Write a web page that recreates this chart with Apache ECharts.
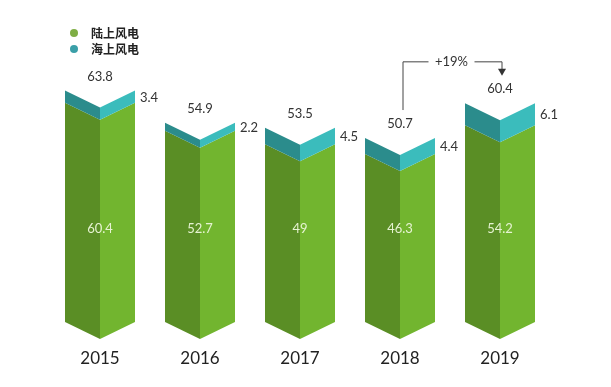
<!DOCTYPE html>
<html><head><meta charset="utf-8">
<script src="https://cdn.jsdelivr.net/npm/echarts@6/dist/echarts.min.js"></script>
<style>html,body{margin:0;padding:0;background:#fff}#c{width:611px;height:387px}</style>
</head><body><div id="c"></div>
<script>
const years = ['2015', '2016', '2017', '2018', '2019'];
const onshore = [60.4, 52.7, 49, 46.3, 54.2];
const offshore = [3.4, 2.2, 4.5, 4.4, 6.1];
const totals = [63.8, 54.9, 53.5, 50.7, 60.4];
const seriesNames = ['陆上风电', '海上风电'];
const growthLabel = '+19%';

const NUM_FONT = 'Lato, "DejaVu Sans", sans-serif';
const DEPTH = 17;

function faces(api, idx, lo, hi, cL, cR) {
  const half = api.size([1, 0])[0] * 0.35;
  const pTop = api.coord([idx, hi]);
  const pBot = api.coord([idx, lo]);
  const xc = pTop[0], xl = xc - half, xr = xc + half;
  const yt = pTop[1], yb = pBot[1];
  return {
    xc, xl, xr, yt, yb,
    shapes: [
      {type: 'polygon', shape: {points: [[xl, yt], [xc, yt + DEPTH], [xc, yb + DEPTH], [xl, yb]]}, style: {fill: cL}},
      {type: 'polygon', shape: {points: [[xc, yt + DEPTH], [xr, yt], [xr, yb], [xc, yb + DEPTH]]}, style: {fill: cR}}
    ]
  };
}

const chart = echarts.init(document.getElementById('c'), null, {renderer: 'canvas'});
chart.setOption({
  backgroundColor: '#ffffff',
  animation: false,
  grid: {left: 50, right: 61, top: 68, bottom: 65},
  legend: {
    orient: 'vertical', left: 65, top: 21, itemGap: 2,
    icon: 'circle', itemWidth: 8, itemHeight: 8,
    textStyle: {fontSize: 12, lineHeight: 14, color: '#222', fontWeight: 'bold',
      fontFamily: '"Noto Sans CJK SC", sans-serif', padding: [0, 0, 0, 8]},
    data: [
      {name: seriesNames[0], itemStyle: {color: '#7fae45'}},
      {name: seriesNames[1], itemStyle: {color: '#3a9fa8'}}
    ]
  },
  xAxis: {
    type: 'category', data: years,
    axisLine: {show: false}, axisTick: {show: false}, splitLine: {show: false},
    axisLabel: {margin: 28, fontSize: 17, color: '#222', fontFamily: NUM_FONT}
  },
  yAxis: {type: 'value', min: 0, max: 70, show: false},
  series: [
    {
      name: seriesNames[0], type: 'custom',
      itemStyle: {color: '#7fae45'},
      encode: {x: 0, y: 1},
      data: years.map((y, i) => [i, onshore[i]]),
      renderItem: function (params, api) {
        const i = api.value(0);
        const f = faces(api, i, 0, api.value(1), '#5a8e25', '#72b52f');
        return {type: 'group', children: f.shapes.concat([
          {type: 'text', style: {x: f.xc, y: f.yb - 93, text: String(onshore[i]),
            fill: '#e6f3d2', fontSize: 13, fontFamily: NUM_FONT, align: 'center', verticalAlign: 'middle'}}
        ])};
      }
    },
    {
      name: seriesNames[1], type: 'custom',
      itemStyle: {color: '#3a9fa8'},
      encode: {x: 0, y: 1},
      data: years.map((y, i) => [i, onshore[i] + offshore[i], onshore[i]]),
      renderItem: function (params, api) {
        const i = api.value(0);
        const f = faces(api, i, api.value(2), api.value(1), '#2b8c8c', '#3bbcbc');
        return {type: 'group', children: f.shapes.concat([
          {type: 'text', style: {x: f.xc, y: f.yt - 14, text: String(totals[i]),
            fill: '#333', fontSize: 13, fontFamily: NUM_FONT, align: 'center', verticalAlign: 'middle'}},
          {type: 'text', style: {x: f.xr + 5, y: (f.yt + f.yb) / 2 + 1, text: String(offshore[i]),
            fill: '#333', fontSize: 13, fontFamily: NUM_FONT, align: 'left', verticalAlign: 'middle'}}
        ])};
      }
    }
  ]
});

// growth annotation between 2018 and 2019
const pA = chart.convertToPixel({seriesIndex: 1}, [3, totals[3]]);
const pB = chart.convertToPixel({seriesIndex: 1}, [4, totals[4]]);
const xA = pA[0] + 3, xB = pB[0] + 2;
const yA = pA[1] - 28, yB = pB[1] - 28;
const yTop = Math.min(yA, yB) - 13;
const xMid = (xA + xB) / 2;
chart.setOption({
  graphic: [
    {type: 'polyline', shape: {points: [[xA, yA], [xA, yTop], [xMid - 24, yTop]]}, style: {stroke: '#444', lineWidth: 1, fill: null}},
    {type: 'polyline', shape: {points: [[xMid + 22, yTop], [xB, yTop], [xB, yB - 5]]}, style: {stroke: '#444', lineWidth: 1, fill: null}},
    {type: 'polygon', shape: {points: [[xB - 4, yB - 6], [xB + 4, yB - 6], [xB, yB + 1]]}, style: {fill: '#333'}},
    {type: 'text', style: {x: xMid - 1, y: yTop, text: growthLabel, fill: '#333', fontSize: 13,
      fontFamily: NUM_FONT, align: 'center', verticalAlign: 'middle'}}
  ]
});
</script>
</body></html>
